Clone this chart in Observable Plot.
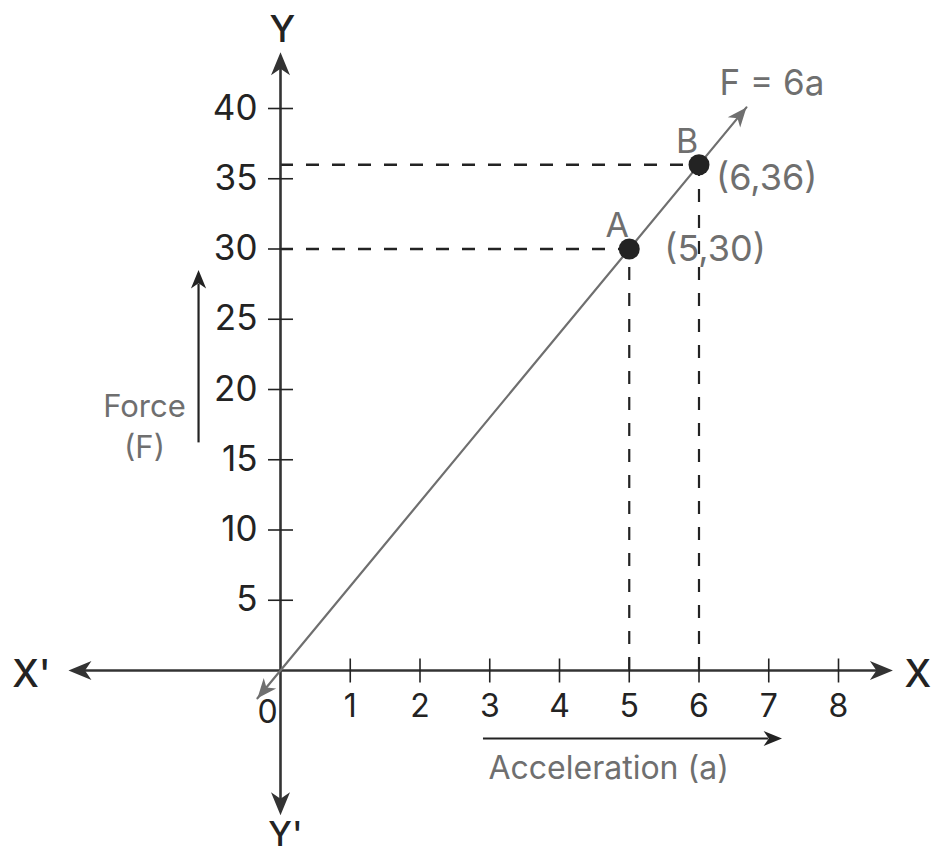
<!DOCTYPE html>
<html>
<head>
<meta charset="utf-8">
<script src="https://cdn.jsdelivr.net/npm/d3@7"></script>
<script src="https://cdn.jsdelivr.net/npm/@observablehq/plot@0.6"></script>
<style>
  html, body { margin: 0; padding: 0; background: #ffffff; }
  #chart svg { display: block; }
</style>
</head>
<body>
<div id="chart"></div>
<script>
// Graph of force against acceleration: F = 6a
const pointNames = ["A", "B"];
const accel = [5, 6];          // a
const force = [30, 36];        // F = 6a
const coordLabels = ["(5,30)", "(6,36)"];
const xTicks = [1, 2, 3, 4, 5, 6, 7, 8];
const yTicks = [5, 10, 15, 20, 25, 30, 35, 40];
const lineRange = [-0.33, 6.68];   // extent of the drawn F = 6a line (in a)
const xAxisRange = [-3.04, 8.78];
const yAxisRange = [-10.3, 44.0];

const points = pointNames.map((name, i) => ({name, a: accel[i], F: force[i], label: coordLabels[i]}));
const slope = 6;
const lineEnds = lineRange.map(a => ({a, F: slope * a}));

const W = 931, H = 855;
const xDomain = [-4.0143, 9.3333];
const yDomain = [-13.167, 47.687];

// pixel per unit, used to orient the arrowheads along the line
const pxX = W / (xDomain[1] - xDomain[0]);
const pxY = H / (yDomain[1] - yDomain[0]);
const lineAngle = Math.atan2(pxX, slope * pxY) * 180 / Math.PI;

// notched (stealth) arrowhead, tip at the origin, pointing up
const stealth = {
  draw(ctx, size) {
    const r = Math.sqrt(size / Math.PI);
    const L = 2.3 * r, w = 0.95 * r, n = 1.65 * r;
    ctx.moveTo(0, 0);
    ctx.lineTo(w, L);
    ctx.lineTo(0, n);
    ctx.lineTo(-w, L);
    ctx.closePath();
  }
};
// short vertical stroke used as a tick
const tickMark = {
  draw(ctx, size) {
    const r = Math.sqrt(size / Math.PI);
    ctx.moveTo(0, -r);
    ctx.lineTo(0, r);
  }
};

const ink = "#232323";
const gray = "#6f6f6f";
const font = "Inter, 'Noto Sans', sans-serif";

const axisHeads = [
  {x: xAxisRange[1], y: 0, rot: 90},
  {x: xAxisRange[0], y: 0, rot: 270},
  {x: 0, y: yAxisRange[1], rot: 0},
  {x: 0, y: yAxisRange[0], rot: 180}
];
const lineHeads = [
  {a: lineEnds[1].a, F: lineEnds[1].F, rot: lineAngle},
  {a: lineEnds[0].a, F: lineEnds[0].F, rot: lineAngle + 180}
];

const chart = Plot.plot({
  width: W,
  height: H,
  margin: 0,
  style: {background: "#ffffff", fontFamily: font},
  x: {domain: xDomain, axis: null},
  y: {domain: yDomain, axis: null},
  marks: [
    // dashed guides from each point to the axes
    Plot.ruleY(points, {y: "F", x1: 0, x2: "a", stroke: ink, strokeWidth: 2.6, strokeDasharray: "13,13"}),
    Plot.ruleX(points, {x: "a", y1: 0, y2: "F", stroke: ink, strokeWidth: 2.2, strokeDasharray: "13,13"}),

    // axes
    Plot.ruleY([0], {x1: xAxisRange[0] + 0.1, x2: xAxisRange[1] - 0.1, stroke: "#333", strokeWidth: 2.6}),
    Plot.ruleX([0], {y1: yAxisRange[0] + 0.5, y2: yAxisRange[1] - 0.5, stroke: "#333", strokeWidth: 2.6}),
    Plot.dot(axisHeads, {x: "x", y: "y", rotate: "rot", symbol: stealth, r: 10, fill: "#333", stroke: "none"}),

    // ticks
    Plot.dot(xTicks, {x: d => d, y: 0, symbol: tickMark, r: 12, stroke: ink, strokeWidth: 1.6, fill: "none"}),
    Plot.dot(yTicks, {x: 0, y: d => d, rotate: 90, symbol: tickMark, r: 12.5, stroke: ink, strokeWidth: 1.6, fill: "none"}),

    // tick labels
    Plot.text(xTicks, {x: d => d, y: 0, text: d => String(d), dy: 36, fontSize: 32, fill: ink}),
    Plot.text([0], {x: d => d, y: 0, text: d => String(d), dx: -13, dy: 42, fontSize: 32, fill: ink}),
    Plot.text(yTicks, {x: 0, y: d => d, text: d => String(d), dx: -23, textAnchor: "end", fontSize: 35, fill: ink}),

    // axis names
    Plot.text(["Y"], {x: 0, y: 45.55, text: d => d, dx: 2, fontSize: 37, fontWeight: 500, fill: ink}),
    Plot.text(["Y'"], {x: 0, y: yAxisRange[0], text: d => d, dx: 5, dy: 20, fontSize: 34, fontWeight: 500, fill: ink}),
    Plot.text(["X'"], {x: xAxisRange[0], y: 0, text: d => d, dx: -37, dy: 4, fontSize: 38, fontWeight: 500, fill: ink}),
    Plot.text(["X"], {x: xAxisRange[1], y: 0, text: d => d, dx: 25, dy: 4, fontSize: 38, fontWeight: 500, fill: ink}),

    // F = 6a line
    Plot.line(lineEnds, {x: "a", y: "F", stroke: gray, strokeWidth: 2.2}),
    Plot.dot(lineHeads, {x: "a", y: "F", rotate: "rot", symbol: stealth, r: 8.5, fill: gray, stroke: "none"}),
    Plot.text([lineEnds[1]], {x: "a", y: "F", text: () => "F = 6a", dx: -27, dy: -24, textAnchor: "start", fontSize: 35, fill: gray}),

    // points A and B
    Plot.dot(points, {x: "a", y: "F", r: 10.5, fill: ink, stroke: "none"}),
    Plot.text(points, {x: "a", y: "F", text: "name", dx: -12, dy: -23, fontSize: 34, fill: gray}),
    Plot.text([points[0]], {x: "a", y: "F", text: "label", dx: 35, textAnchor: "start", fontSize: 36, fill: gray}),
    Plot.text([points[1]], {x: "a", y: "F", text: "label", dx: 17, dy: 14, textAnchor: "start", fontSize: 36, fill: gray}),

    // axis quantity labels with their arrows
    Plot.ruleX([-1.175], {y1: 16.2, y2: 27.5, stroke: ink, strokeWidth: 2.2}),
    Plot.dot([{x: -1.175, y: 28.5}], {x: "x", y: "y", symbol: stealth, r: 8, fill: ink, stroke: "none"}),
    Plot.text(["Force\n(F)"], {x: -1.95, y: 17.5, text: d => d, lineHeight: 1.3, fontSize: 31, fill: gray}),

    Plot.ruleY([-4.84], {x1: 2.91, x2: 7.0, stroke: ink, strokeWidth: 2.2}),
    Plot.dot([{x: 7.19, y: -4.84}], {x: "x", y: "y", rotate: 90, symbol: stealth, r: 8, fill: ink, stroke: "none"}),
    Plot.text(["Acceleration (a)"], {x: 2.91, y: -4.84, text: d => d, dx: 5, dy: 30, textAnchor: "start", fontSize: 32, fill: gray})
  ]
});

document.getElementById("chart").appendChild(chart);
</script>
</body>
</html>
